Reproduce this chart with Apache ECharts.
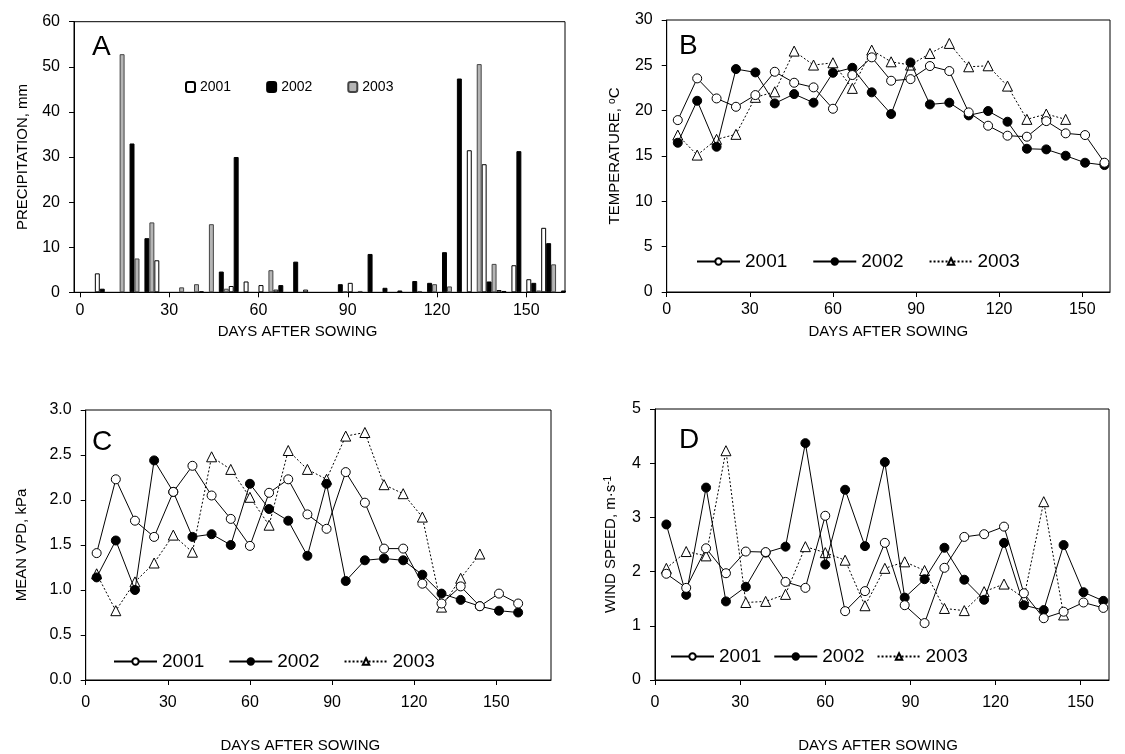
<!DOCTYPE html>
<html><head><meta charset="utf-8">
<script src="https://cdn.jsdelivr.net/npm/echarts@6/dist/echarts.min.js"></script>
<style>html,body{margin:0;padding:0;background:#fff}#c{width:1125px;height:754px}</style>
</head><body><div id="c"></div>
<script>
const FONT = "'Liberation Sans', Arial, sans-serif";

// Panel A: precipitation in 5-day periods (period centre, days after sowing)
const precipDays = [2.5,7.5,12.5,17.5,22.5,27.5,32.5,37.5,42.5,47.5,52.5,57.5,62.5,67.5,72.5,77.5,82.5,87.5,92.5,97.5,102.5,107.5,112.5,117.5,122.5,127.5,132.5,137.5,142.5,147.5,152.5,157.5,162.5];
const precip2001 = [0,4.2,0,0,0,7.1,0,0,0.2,0,1.4,2.4,1.6,0.6,0,0.6,0,0,2.1,0,0,0,0,0,0,0,31.5,28.4,0.5,6.0,2.9,14.3,0];
const precip2002 = [0,0.8,0,33.0,12.0,0,0,0,0,4.6,30.0,0,0,1.6,6.8,0,0,1.8,0,8.5,1.0,0.4,2.5,2.1,8.9,47.4,0,2.4,0.3,31.3,2.1,10.9,0.4];
const precip2003 = [0,0,52.8,7.5,15.5,0,1.1,1.8,15.1,0.8,0,0,4.9,0,0,0,0,0.2,0.3,0,0,0,0.3,1.8,1.3,0,50.6,6.3,0,0,0.4,6.2,0];

// Panels B-D: weekly means
const weekDays = [4,11,18,25,32,39,46,53,60,67,74,81,88,95,102,109,116,123,130,137,144,151,158];
const temp2001 = [18.96,23.56,21.35,20.43,21.72,24.29,23.08,22.57,20.21,23.93,25.88,23.3,23.48,24.92,24.37,19.81,18.34,17.24,17.13,18.85,17.5,17.31,14.26];
const temp2002 = [16.46,21.09,16.02,24.59,24.22,20.8,21.83,20.88,24.18,24.73,22.02,19.63,25.32,20.69,20.88,19.48,19.96,18.78,15.8,15.73,15.03,14.26,14.0];
const temp2003 = [17.31,15.1,16.84,17.39,21.47,22.08,26.57,25.03,25.28,22.46,26.68,25.39,25.03,26.31,27.42,24.84,24.95,22.71,19.04,19.63,19.04];
const vpd2001 = [1.41,2.23,1.77,1.59,2.09,2.38,2.05,1.79,1.49,2.08,2.23,1.84,1.68,2.31,1.97,1.46,1.46,1.07,0.85,1.04,0.82,0.96,0.85];
const vpd2002 = [1.14,1.55,1.0,2.44,2.09,1.59,1.62,1.50,2.18,1.90,1.77,1.38,2.18,1.10,1.33,1.35,1.33,1.17,0.96,0.89,0.82,0.77,0.75];
const vpd2003 = [1.18,0.77,1.09,1.30,1.61,1.42,2.48,2.34,2.03,1.72,2.55,2.34,2.23,2.71,2.75,2.17,2.07,1.81,0.81,1.13,1.40];
const wind2001 = [1.96,1.70,2.43,1.97,2.37,2.36,1.81,1.70,3.03,1.27,1.64,2.53,1.38,1.05,2.07,2.64,2.69,2.83,1.60,1.14,1.26,1.43,1.33];
const wind2002 = [2.87,1.57,3.55,1.45,1.72,2.35,2.46,4.37,2.13,3.51,2.47,4.02,1.52,1.86,2.44,1.85,1.48,2.53,1.38,1.29,2.49,1.62,1.46];
const wind2003 = [2.06,2.37,2.29,4.23,1.43,1.45,1.58,2.46,2.35,2.21,1.37,2.06,2.18,2.02,1.32,1.28,1.63,1.77,1.51,3.29,1.20];

const xTicks = [0,30,60,90,120,150];
const years = ['2001','2002','2003'];

const pairs = (days, vals) => vals.map((v,i) => [days[i], v]);
const barPairs = (days, vals) => vals.map((v,i) => [days[i], v > 0 ? v : '-']);

const txt = {color:'#000', fontFamily:FONT, fontSize:15};
const tickTxt = {color:'#000', fontFamily:FONT, fontSize:16};

function xAxisCfg(gi, min, max, margin, nameGap, padR){
  return {type:'value', gridIndex:gi, min, max,
    axisLine:{show:true, onZero:false, lineStyle:{color:'#000', width:1}},
    axisTick:{show:true, length:5, customValues:xTicks, lineStyle:{color:'#000', width:1}},
    axisLabel:Object.assign({customValues:xTicks, margin}, tickTxt),
    splitLine:{show:false},
    name:'DAYS AFTER SOWING', nameLocation:'middle', nameGap,
    nameTextStyle:Object.assign({padding:[0,padR,0,0]}, txt)};
}
function yAxisCfg(gi, min, max, interval, name, nameGap, fmt, rich){
  return {type:'value', gridIndex:gi, min, max, interval,
    axisLine:{show:true, onZero:false, lineStyle:{color:'#000', width:1}},
    axisTick:{show:true, length:5, lineStyle:{color:'#000', width:1}},
    axisLabel:Object.assign({margin:14, formatter:fmt}, tickTxt),
    splitLine:{show:false},
    name, nameLocation:'middle', nameGap,
    nameTextStyle:Object.assign({rich:rich||{}}, txt)};
}
const supRich = {sup:{fontSize:10, fontFamily:FONT, color:'#000', verticalAlign:'top', lineHeight:15}};

function lineSeries(panel, yi, year, days, vals){
  const s = {type:'line', name:panel+year, xAxisIndex:yi, yAxisIndex:yi,
    data:pairs(days, vals), symbolSize:9, animation:false,
    lineStyle:{color:'#000', width:1}};
  if (year === '2001') { s.symbol='circle'; s.itemStyle={color:'#fff', borderColor:'#000', borderWidth:1}; s.z=4; }
  else if (year === '2002') { s.symbol='circle'; s.itemStyle={color:'#000', borderColor:'#000', borderWidth:1}; s.z=3; }
  else { s.symbol='triangle'; s.symbolSize=10; s.itemStyle={color:'#fff', borderColor:'#000', borderWidth:1};
         s.lineStyle={color:'#000', width:1, type:[2,2]}; s.z=2; }
  return s;
}
function legendCfg(panel, left, top, gap){
  return {left, top, padding:0, itemWidth:43, itemHeight:8, itemGap:gap,
    data:years.map(y=>panel+y), formatter:n=>n.slice(1),
    textStyle:{color:'#000', fontFamily:FONT, fontSize:19}};
}

const barStyles = {
  '2001':{color:'#fff', borderColor:'#000', borderWidth:1},
  '2002':{color:'#000', borderColor:'#000', borderWidth:1},
  '2003':{color:'#b5b5b5', borderColor:'#444', borderWidth:1}
};
const precipVals = {'2001':precip2001, '2002':precip2002, '2003':precip2003};
const barSeries = years.map(y => ({type:'bar', name:'A'+y, xAxisIndex:0, yAxisIndex:0,
  data:barPairs(precipDays, precipVals[y]), barGap:'0%', barCategoryGap:'0%',
  itemStyle:barStyles[y], animation:false}));

const gridBase = {show:true, borderColor:'#000', borderWidth:1, backgroundColor:'transparent', containLabel:false};

const option = {
  backgroundColor:'#fff',
  animation:false,
  grid:[
    Object.assign({left:74, top:21.7, width:491, height:270.6}, gridBase),
    Object.assign({left:666.7, top:20, width:443.3, height:272}, gridBase),
    Object.assign({left:85.7, top:410, width:465.3, height:271}, gridBase),
    Object.assign({left:655, top:409, width:454, height:271}, gridBase)
  ],
  xAxis:[
    xAxisCfg(0, -2, 163, 10, 32, 44),
    xAxisCfg(1, 0, 160, 10, 32, 0),
    xAxisCfg(2, 0, 170, 15, 58, 36),
    xAxisCfg(3, 0, 160, 15, 58, 8)
  ],
  yAxis:[
    yAxisCfg(0, 0, 60, 10, 'PRECIPITATION, mm', 44),
    yAxisCfg(1, 0, 30, 5, 'TEMPERATURE, {sup|o}C', 44, null, supRich),
    yAxisCfg(2, 0, 3, 0.5, 'MEAN VPD, kPa', 56, v=>v.toFixed(1)),
    yAxisCfg(3, 0, 5, 1, 'WIND SPEED, m·s{sup|-1}', 37, null, supRich)
  ],
  legend:[
    {left:185, top:80, padding:0, itemWidth:9, itemHeight:10, itemGap:35,
     data:years.map(y=>'A'+y), formatter:n=>n.slice(1),
     textStyle:{color:'#000', fontFamily:FONT, fontSize:14}},
    legendCfg('B', 696, 252, 25),
    legendCfg('C', 113, 652, 24),
    legendCfg('D', 670, 647, 12)
  ],
  graphic:[
    {type:'text', left:92, top:33, style:{text:'A', font:'28px '+FONT, fill:'#000'}},
    {type:'text', left:679, top:32, style:{text:'B', font:'28px '+FONT, fill:'#000'}},
    {type:'text', left:92, top:428, style:{text:'C', font:'28px '+FONT, fill:'#000'}},
    {type:'text', left:679, top:426, style:{text:'D', font:'28px '+FONT, fill:'#000'}}
  ],
  series:[
    ...barSeries,
    lineSeries('B',1,'2001',weekDays,temp2001),
    lineSeries('B',1,'2002',weekDays,temp2002),
    lineSeries('B',1,'2003',weekDays,temp2003),
    lineSeries('C',2,'2001',weekDays,vpd2001),
    lineSeries('C',2,'2002',weekDays,vpd2002),
    lineSeries('C',2,'2003',weekDays,vpd2003),
    lineSeries('D',3,'2001',weekDays,wind2001),
    lineSeries('D',3,'2002',weekDays,wind2002),
    lineSeries('D',3,'2003',weekDays,wind2003)
  ]
};
const chart = echarts.init(document.getElementById('c'), null, {renderer:'canvas'});
chart.setOption(option);
</script>
</body></html>
